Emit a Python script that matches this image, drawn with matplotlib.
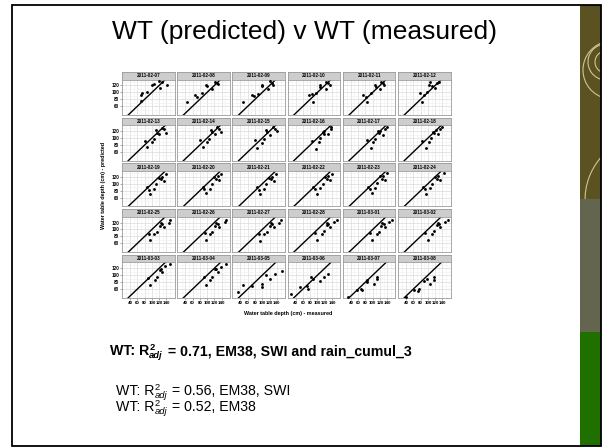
import matplotlib
matplotlib.use("Agg")
import matplotlib.pyplot as plt
from matplotlib.patches import Rectangle, Arc

W, H = 602, 447
plt.rcParams['font.family'] = ['Liberation Sans', 'DejaVu Sans']

# ---------------- data ----------------
dates = ["2011-02-07", "2011-02-08", "2011-02-09", "2011-02-10", "2011-02-11", "2011-02-12",
         "2011-02-13", "2011-02-14", "2011-02-15", "2011-02-16", "2011-02-17", "2011-02-18",
         "2011-02-19", "2011-02-20", "2011-02-21", "2011-02-22", "2011-02-23", "2011-02-24",
         "2011-02-25", "2011-02-26", "2011-02-27", "2011-02-28", "2011-03-01", "2011-03-02",
         "2011-03-03", "2011-03-04", "2011-03-05", "2011-03-06", "2011-03-07", "2011-03-08"]

measured = [
    [71, 69, 74, 87, 101, 106, 119, 122, 128, 142],
    [46, 67, 72, 85, 97, 99, 113, 122, 131, 128],
    [48, 71, 89, 98, 100, 117, 121, 130, 76, 126],
    [87, 78, 96, 106, 107, 122, 124, 133, 84, 130],
    [74, 81, 96, 106, 108, 120, 122, 131, 84, 128],
    [78, 89, 98, 103, 105, 119, 124, 130, 85, 110],
    [81, 87, 99, 106, 110, 113, 128, 133, 138, 119],
    [80, 88, 100, 106, 111, 114, 127, 133, 137, 121],
    [79, 86, 98, 105, 110, 113, 128, 134, 139, 120],
    [85, 96, 103, 115, 118, 128, 136, 138, 119, 108],
    [84, 95, 102, 114, 117, 127, 135, 138, 120, 107],
    [83, 94, 102, 113, 118, 127, 134, 139, 121, 108],
    [87, 96, 106, 119, 124, 133, 138, 128, 112, 91],
    [88, 97, 107, 120, 125, 134, 139, 129, 113, 92],
    [86, 95, 105, 118, 123, 132, 138, 127, 111, 90],
    [89, 98, 108, 121, 126, 135, 141, 130, 114, 93],
    [88, 97, 107, 120, 125, 134, 140, 129, 113, 92],
    [87, 96, 106, 119, 124, 133, 145, 128, 112, 91],
    [92, 96, 107, 113, 124, 133, 147, 151, 122, 128],
    [93, 97, 108, 114, 125, 134, 148, 152, 123, 129],
    [91, 95, 106, 112, 123, 132, 146, 150, 121, 127],
    [92, 99, 112, 117, 127, 133, 145, 154, 125, 130],
    [93, 98, 111, 116, 126, 134, 146, 153, 124, 131],
    [92, 99, 112, 116, 127, 133, 147, 155, 125, 130],
    [90, 95, 108, 113, 121, 128, 136, 151, 124],
    [91, 96, 109, 114, 122, 129, 137, 152, 125],
    [32, 48, 71, 98, 98, 109, 121, 135, 153],
    [26, 51, 72, 74, 83, 87, 107, 118, 129],
    [31, 56, 67, 72, 84, 85, 104, 113, 111],
    [41, 62, 73, 75, 89, 98, 107, 117, 118],
]

predicted = [
    [76, 92, 98, 101, 122, 125, 133, 113, 129, 122],
    [72, 92, 88, 98, 122, 118, 109, 131, 125, 128],
    [72, 92, 95, 118, 122, 109, 132, 122, 90, 128],
    [73, 92, 97, 122, 116, 109, 131, 122, 95, 126],
    [92, 86, 97, 120, 115, 109, 129, 122, 72, 126],
    [98, 92, 101, 122, 129, 113, 127, 131, 72, 118],
    [93, 73, 88, 97, 122, 116, 130, 125, 116, 111],
    [94, 75, 90, 98, 123, 117, 131, 126, 118, 112],
    [94, 72, 87, 96, 122, 117, 131, 127, 119, 110],
    [93, 70, 88, 118, 113, 111, 125, 131, 120, 99],
    [94, 72, 89, 119, 114, 110, 126, 131, 121, 98],
    [93, 71, 90, 118, 115, 112, 125, 132, 122, 100],
    [90, 72, 86, 118, 113, 109, 127, 120, 99, 83],
    [91, 73, 86, 119, 114, 110, 128, 121, 100, 84],
    [90, 71, 85, 117, 113, 108, 127, 119, 98, 82],
    [91, 72, 87, 120, 114, 111, 129, 122, 100, 85],
    [92, 73, 88, 121, 115, 112, 130, 123, 101, 86],
    [91, 72, 87, 120, 114, 111, 131, 122, 100, 85],
    [88, 69, 86, 93, 118, 106, 120, 127, 109, 116],
    [89, 70, 87, 94, 119, 107, 121, 128, 110, 117],
    [88, 68, 86, 93, 118, 106, 120, 127, 109, 116],
    [90, 69, 86, 95, 118, 107, 122, 127, 112, 117],
    [89, 70, 87, 94, 119, 108, 121, 128, 111, 116],
    [90, 69, 86, 95, 118, 107, 122, 128, 112, 117],
    [93, 72, 86, 96, 116, 109, 125, 131, 118],
    [94, 71, 85, 95, 117, 108, 124, 132, 117],
    [52, 72, 68, 75, 65, 100, 88, 102, 111],
    [45, 65, 70, 61, 95, 88, 82, 95, 104],
    [38, 58, 61, 56, 86, 79, 75, 95, 88],
    [38, 58, 54, 61, 84, 88, 75, 95, 86],
]

title = "WT (predicted) v WT (measured)"
x_label = "Water table depth (cm) - measured"
y_label = "Water table depth (cm) - predicted"
x_ticks = [40, 60, 80, 100, 120, 140]
y_ticks = [60, 80, 100, 120]
x_range = (18, 162)
y_range = (35, 137)

# ---------------- figure ----------------
fig = plt.figure(figsize=(W / 100, H / 100), dpi=100)


def frect(x0, y0, w, h):
    return [x0 / W, 1 - (y0 + h) / H, w / W, h / H]


bg = fig.add_axes([0, 0, 1, 1])
bg.set_xlim(0, W)
bg.set_ylim(H, 0)
bg.axis('off')

# right decorative bar
bar_x0, bar_x1 = 580, 601
bg.add_patch(Rectangle((bar_x0, 5), bar_x1 - bar_x0, 194, color='#5a5221', lw=0))
bg.add_patch(Rectangle((bar_x0, 199), bar_x1 - bar_x0, 133, color='#64654f', lw=0))
bg.add_patch(Rectangle((bar_x0, 332), bar_x1 - bar_x0, 114, color='#207000', lw=0))
clip = Rectangle((bar_x0, 5), bar_x1 - bar_x0, 194, transform=bg.transData, visible=False)
bg.add_patch(clip)
for (cx, cy, d, t1, t2) in [(606, 62, 22, 0, 360), (606, 62, 36, 90, 300), (612, 70, 58, 100, 260),
                            (650, 200, 130, 120, 230), (592, 20, 40, 180, 360)]:
    a = Arc((cx, cy), d, d, theta1=t1, theta2=t2, color='#cfc596', lw=0.8)
    bg.add_patch(a)
    a.set_clip_path(clip)

# slide border
bg.add_patch(Rectangle((12, 5), 589, 441, fill=False, ec='black', lw=1.3))

# title
fig.text(305 / W, 1 - 32 / H, title, fontsize=19, ha='center', va='center')

# facet grid
ncol = 6
col_left0, col_pitch, pw = 122, 55.2, 52.5
row_top0, row_pitch, sh, ph = 72, 45.7, 7.5, 35.5
minor_x = [v + 10 for v in x_ticks] + [x_ticks[0] - 10]
minor_y = [v + 10 for v in y_ticks] + [y_ticks[0] - 10]

for i, d in enumerate(dates):
    r, c = divmod(i, ncol)
    x0 = col_left0 + c * col_pitch
    st = row_top0 + r * row_pitch
    sax = fig.add_axes(frect(x0, st, pw, sh))
    sax.set_facecolor('#cdcdcd')
    sax.set_xticks([])
    sax.set_yticks([])
    for s in sax.spines.values():
        s.set_color('#9a9a9a')
        s.set_linewidth(0.6)
    sax.text(0.5, 0.5, d, ha='center', va='center', fontsize=3.3, fontweight='bold',
             transform=sax.transAxes)

    ax = fig.add_axes(frect(x0, st + sh, pw, ph))
    ax.set_xlim(*x_range)
    ax.set_ylim(*y_range)
    ax.set_xticks(x_ticks)
    ax.set_yticks(y_ticks)
    ax.set_xticks(minor_x, minor=True)
    ax.set_yticks(minor_y, minor=True)
    ax.grid(which='major', color='#dadada', lw=0.5)
    ax.grid(which='minor', color='#f0f0f0', lw=0.4)
    ax.set_axisbelow(True)
    ax.tick_params(which='minor', length=0)
    for s in ax.spines.values():
        s.set_color('#9a9a9a')
        s.set_linewidth(0.6)
    ax.axline((x_range[0], x_range[0]), slope=1, color='black', lw=1.0)
    ax.scatter(measured[i], predicted[i], s=4.2, c='black', lw=0, zorder=3)
    bottom = (r == 4)
    left = (c == 0)
    ax.tick_params(which='major', length=1.5 if bottom else 0, width=0.4, color='#666666',
                   labelsize=3.2, pad=0.6, axis='x', labelbottom=bottom)
    ax.tick_params(which='major', length=1.5 if left else 0, width=0.4, color='#666666',
                   labelsize=3.3, pad=0.6, axis='y', labelleft=left)
    for lab in ax.get_xticklabels() + ax.get_yticklabels():
        lab.set_fontweight('bold')

fig.text(288 / W, 1 - 313 / H, x_label, fontsize=3.9, fontweight='bold', ha='center', va='center')
fig.text(104 / W, 1 - 185 / H, y_label, fontsize=3.9, fontweight='bold', ha='center', va='center',
         rotation=90)

# rich text lines
renderer = fig.canvas.get_renderer()


def rich_line(x, y, size, weight, value, rest):
    t = fig.text(x / W, 1 - y / H, "WT: R", fontsize=size, fontweight=weight, va='baseline')
    x += t.get_window_extent(renderer).width
    t2 = fig.text(x / W, 1 - (y - size * 0.5) / H, "2", fontsize=size * 0.66, fontweight=weight,
                  va='baseline')
    t3 = fig.text(x / W, 1 - (y + size * 0.28) / H, "adj", fontsize=size * 0.66, fontweight=weight,
                  fontstyle='italic', va='baseline')
    x += max(t2.get_window_extent(renderer).width, t3.get_window_extent(renderer).width) + 1
    fig.text(x / W, 1 - y / H, " = " + value + ", " + rest, fontsize=size, fontweight=weight,
             va='baseline')


rich_line(110, 355, 10.2, 'bold', "0.71", "EM38, SWI and rain_cumul_3")
rich_line(116, 395, 10.2, 'normal', "0.56", "EM38, SWI")
rich_line(116, 411, 10.2, 'normal', "0.52", "EM38")

fig.savefig("out.png", dpi=100)
